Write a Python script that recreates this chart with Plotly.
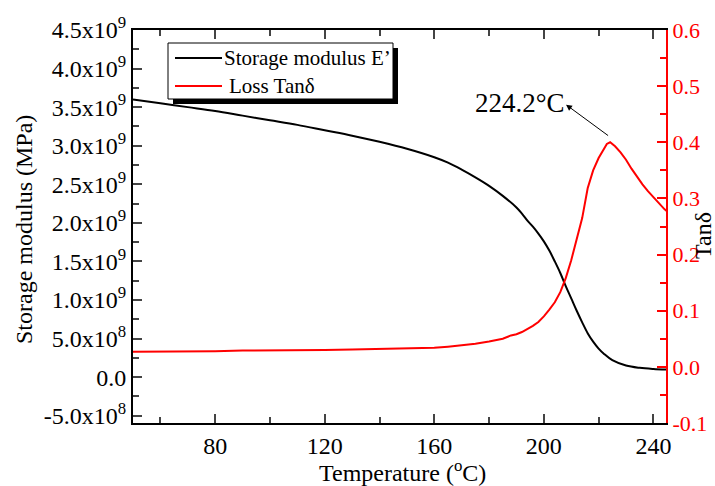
import plotly.graph_objects as go

# Storage modulus E' (MPa) vs temperature
temp_e = [50, 60, 70, 80, 90, 100, 110, 120, 130, 140, 150, 160, 165, 170, 175,
          180, 185, 190, 192, 194, 196, 198, 200, 202, 204, 206, 208, 210, 212, 214,
          216, 218, 220, 222, 225, 230, 235, 240, 245]
storage = [3.60e9, 3.55e9, 3.50e9, 3.45e9, 3.39e9, 3.33e9, 3.27e9, 3.20e9, 3.13e9,
           3.05e9, 2.96e9, 2.85e9, 2.78e9, 2.69e9, 2.59e9, 2.48e9, 2.35e9, 2.20e9,
           2.12e9, 2.03e9, 1.95e9, 1.86e9, 1.76e9, 1.64e9, 1.50e9, 1.35e9, 1.18e9,
           1.02e9, 0.86e9, 0.71e9, 0.57e9, 0.46e9, 0.37e9, 0.30e9, 0.22e9, 0.15e9,
           0.12e9, 0.105e9, 0.097e9]

# Loss Tan delta vs temperature
temp_t = [50, 60, 70, 80, 90, 100, 110, 120, 130, 140, 150, 160, 165, 170, 175, 180,
          185, 188, 190, 192, 194, 196, 198, 200, 202, 204, 206, 208, 210, 212, 214,
          216, 218, 220, 222, 223, 224.2, 225, 226, 228, 230, 232, 234, 236, 238,
          240, 242, 244, 245]
tan_delta = [0.027, 0.027, 0.028, 0.028, 0.029, 0.029, 0.030, 0.030, 0.031, 0.032,
             0.033, 0.034, 0.036, 0.038, 0.041, 0.045, 0.050, 0.056, 0.058, 0.062,
             0.067, 0.073, 0.080, 0.090, 0.102, 0.115, 0.133, 0.158, 0.190, 0.227,
             0.265, 0.318, 0.350, 0.372, 0.390, 0.397, 0.400, 0.397, 0.393, 0.382,
             0.369, 0.353, 0.338, 0.325, 0.313, 0.302, 0.291, 0.281, 0.277]

x_ticks = [80, 120, 160, 200, 240]
y_ticks = [-5e8, 0, 5e8, 1.0e9, 1.5e9, 2.0e9, 2.5e9, 3.0e9, 3.5e9, 4.0e9, 4.5e9]
y_ticktext = ["-5.0x10<sup>8</sup>", "0.0", "5.0x10<sup>8</sup>", "1.0x10<sup>9</sup>",
              "1.5x10<sup>9</sup>", "2.0x10<sup>9</sup>", "2.5x10<sup>9</sup>",
              "3.0x10<sup>9</sup>", "3.5x10<sup>9</sup>", "4.0x10<sup>9</sup>",
              "4.5x10<sup>9</sup>"]
y2_ticks = [-0.1, 0.0, 0.1, 0.2, 0.3, 0.4, 0.5, 0.6]
y2_ticktext = ["-0.1", "0.0", "0.1", "0.2", "0.3", "0.4", "0.5", "0.6"]
series_names = ["Storage modulus E’", "Loss Tanδ"]
series_colors = ["black", "#ff0000"]

FONT = "Liberation Serif"
W, H = 715, 486
ML, MR, MT, MB = 133, 49, 30, 63
PW, PH = W - ML - MR, H - MT - MB


def px_x(p):
    return (p - ML) / PW


def px_y(p):
    return (H - MB - p) / PH


fig = go.Figure()
fig.add_trace(go.Scatter(x=temp_e, y=storage, mode="lines", name=series_names[0],
                         line=dict(color=series_colors[0], width=2), line_shape="spline"))
fig.add_trace(go.Scatter(x=temp_t, y=tan_delta, mode="lines", name=series_names[1],
                         line=dict(color=series_colors[1], width=2), yaxis="y2"))

fig.update_layout(
    width=W, height=H,
    margin=dict(l=ML, r=MR, t=MT, b=MB, pad=0, autoexpand=False),
    paper_bgcolor="white", plot_bgcolor="white",
    font=dict(family=FONT, size=22, color="black"),
    showlegend=False,
    xaxis=dict(
        range=[50, 244.6], tickvals=x_ticks, ticks="inside", ticklen=9, tickwidth=2,
        showline=True, linewidth=2, linecolor="black", mirror="ticks",
        showgrid=False, zeroline=False, automargin=False,
        minor=dict(dtick=20, tick0=0, ticks="inside", ticklen=6, tickwidth=2),
        tickfont=dict(size=24),
    ),
    yaxis=dict(
        range=[-5.95e8, 4.5e9], tickvals=y_ticks, ticktext=y_ticktext,
        ticks="inside", ticklen=9, tickwidth=2,
        showline=True, linewidth=2, linecolor="black",
        showgrid=False, zeroline=False, automargin=False,
        minor=dict(dtick=2.5e8, tick0=0, ticks="inside", ticklen=6, tickwidth=2),
        tickfont=dict(size=24),
    ),
    yaxis2=dict(
        range=[-0.1, 0.6], tickvals=y2_ticks, ticktext=y2_ticktext,
        overlaying="y", side="right",
        ticks="inside", ticklen=9, tickwidth=2, tickcolor="#ff0000",
        showline=True, linewidth=2, linecolor="#ff0000",
        tickfont=dict(size=22, color="#ff0000"),
        showgrid=False, zeroline=False, automargin=False,
        minor=dict(dtick=0.05, tick0=0, ticks="inside", ticklen=6, tickwidth=2,
                   tickcolor="#ff0000"),
    ),
)

# axis titles
fig.add_annotation(text="Temperature (<sup>o</sup>C)", xref="paper", yref="paper",
                   x=px_x(402), y=px_y(471), xanchor="center", yanchor="middle",
                   showarrow=False, font=dict(size=24))
fig.add_annotation(text="Storage modulus (MPa)", xref="paper", yref="paper",
                   x=px_x(24), y=px_y(230), textangle=-90, xanchor="center",
                   yanchor="middle", showarrow=False, font=dict(size=24))
fig.add_annotation(text="Tanδ", xref="paper", yref="paper",
                   x=px_x(703), y=px_y(236), textangle=-90, showarrow=False,
                   font=dict(size=24, color="black"), xanchor="center", yanchor="middle")

# legend box with drop shadow
fig.add_shape(type="rect", xref="paper", yref="paper",
              x0=px_x(173), x1=px_x(398), y0=px_y(104), y1=px_y(48),
              fillcolor="black", line=dict(width=0), layer="above")
fig.add_shape(type="rect", xref="paper", yref="paper",
              x0=px_x(168), x1=px_x(393), y0=px_y(99), y1=px_y(43),
              fillcolor="white", line=dict(color="black", width=1), layer="above")
legend_rows = [58, 86]
legend_text_x = [223, 228]
for name, color, ry, tx in zip(series_names, series_colors, legend_rows, legend_text_x):
    fig.add_shape(type="line", xref="paper", yref="paper",
                  x0=px_x(175), x1=px_x(222), y0=px_y(ry), y1=px_y(ry),
                  line=dict(color=color, width=2), layer="above")
    fig.add_annotation(text=name, xref="paper", yref="paper", x=px_x(tx), y=px_y(ry),
                       xanchor="left", yanchor="middle", showarrow=False,
                       font=dict(size=21), borderpad=0)

# peak label and arrow
fig.add_annotation(text="224.2°C", xref="paper", yref="paper",
                   x=px_x(567), y=px_y(103), xanchor="right", yanchor="middle",
                   showarrow=False, font=dict(size=27, color="black"))
fig.add_annotation(text="", x=208.1, y=0.467, xref="x", yref="y2",
                   ax=224.0, ay=0.41, axref="x", ayref="y2",
                   showarrow=True, arrowhead=2, arrowsize=1.2, arrowwidth=1,
                   arrowcolor="black")

fig.write_html(
    "out.html",
    config={"displayModeBar": False},
    post_script="document.body.style.margin='0';"
                "document.documentElement.style.overflow='hidden';",
)
